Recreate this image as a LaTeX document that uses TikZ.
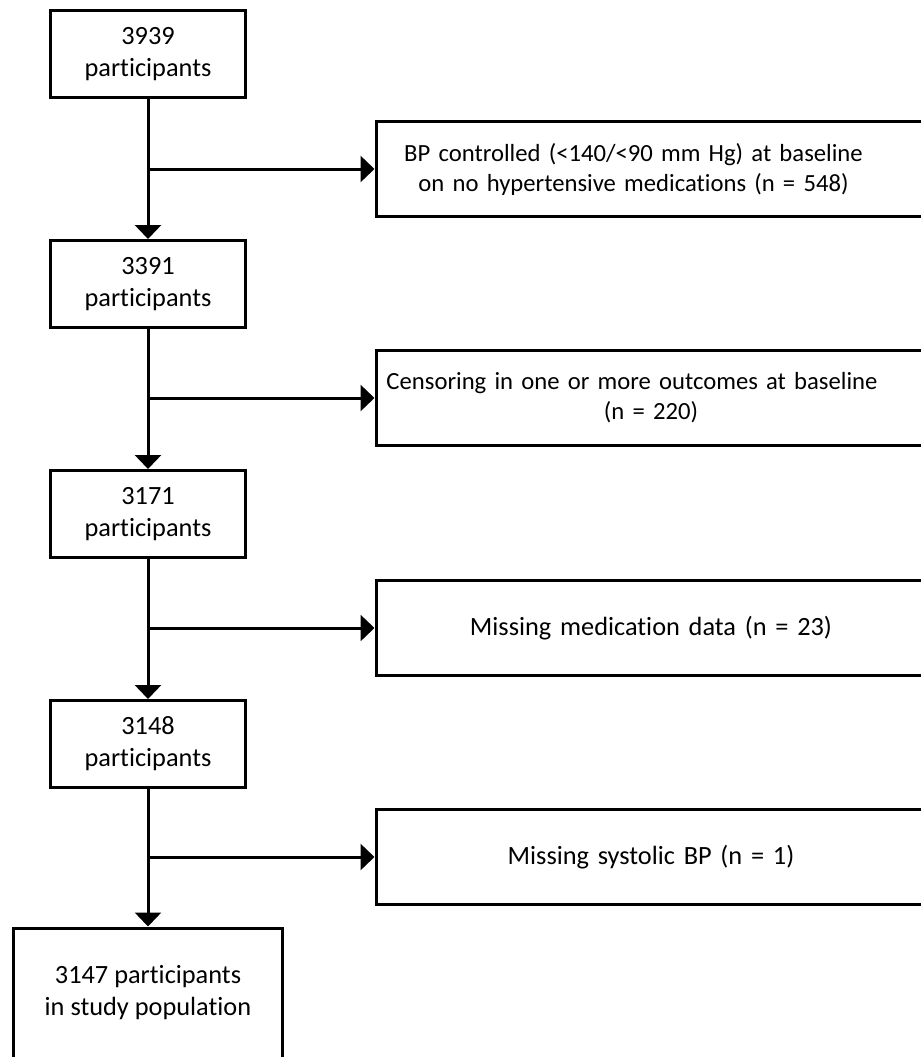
\documentclass[tikz,border=0pt]{standalone}
\usepackage{fontspec}
\setmainfont{Carlito}[Ligatures=CommonOff]
\usepackage{tikz}
\usetikzlibrary{arrows.meta,positioning}
\newcommand{\exline}[2][412.5pt]{\makebox[#1]{#2}}

\begin{document}
\begin{tikzpicture}[
    x=0.75pt, y=-0.75pt,
    pbox/.style={rectangle, draw=black, line width=2.25pt, minimum width=146.25pt,
        minimum height=65.25pt, align=center, font=\fontsize{19.75}{24}\selectfont},
    xbox/.style={rectangle, draw=black, line width=2.25pt, anchor=west, inner xsep=0pt,
        text width=450pt, minimum height=71.25pt, align=left, font=\fontsize{19.75}{24}\selectfont},
    smalltext/.style={font=\fontsize{18.5}{22.5}\selectfont},
    link/.style={line width=2.25pt, -{Triangle[length=10.5pt,width=19.5pt]}}
]
\useasboundingbox (0,0) rectangle (921,1057);
% participant boxes
\node[pbox] (p1) at (148,54) {3939\\participants};
\node[pbox] (p2) at (148,284) {3391\\participants};
\node[pbox] (p3) at (148,514) {3171\\participants};
\node[pbox] (p4) at (148,744) {3148\\participants};
\node[pbox, minimum width=201.75pt, minimum height=97.5pt] (p5) at (148,993) {3147 participants\\in study population};
% exclusion boxes
\node[xbox, smalltext] (x1) at (374.5,169) {\exline[386.25pt]{BP controlled (<140/<90 mm Hg) at baseline}\\\exline[386.25pt]{on no hypertensive medications (n = 548)}};
\node[xbox, smalltext] (x2) at (374.5,398) {\exline[384pt]{Censoring in one or more outcomes at baseline}\\\exline{(n = 220)}};
\node[xbox] (x3) at (374.5,628) {\exline{Missing medication data (n = 23)}};
\node[xbox] (x4) at (374.5,857) {\exline{Missing systolic BP (n = 1)}};
% connectors
\draw[link] (p1) -- (p2);
\draw[link] (p2) -- (p3);
\draw[link] (p3) -- (p4);
\draw[link] (p4) -- (p5);
\draw[link] (p1.south |- x1.west) -- (x1.west);
\draw[link] (p2.south |- x2.west) -- (x2.west);
\draw[link] (p3.south |- x3.west) -- (x3.west);
\draw[link] (p4.south |- x4.west) -- (x4.west);
\end{tikzpicture}
\end{document}
